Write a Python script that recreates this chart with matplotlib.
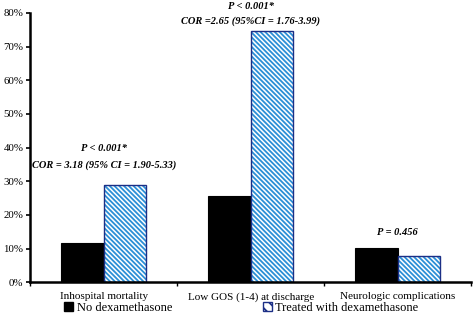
import matplotlib
matplotlib.use("Agg")
import matplotlib.pyplot as plt
import numpy as np
from matplotlib.patches import Patch

categories = ["Inhospital mortality", "Low GOS (1-4) at discharge", "Neurologic complications"]
no_dexa = [11.7, 25.7, 10.1]
treated_dexa = [29.0, 74.7, 7.9]
series_labels = ["No dexamethasone", "Treated with dexamethasone"]
ann_p = ["P < 0.001*", "P < 0.001*", "P = 0.456"]
ann_cor = ["COR = 3.18 (95% CI = 1.90-5.33)", "COR =2.65 (95%CI = 1.76-3.99)", ""]
yticks = [0, 10, 20, 30, 40, 50, 60, 70, 80]

plt.rcParams['font.family'] = ['Liberation Serif', 'DejaVu Serif']
plt.rcParams['hatch.linewidth'] = 1.3

fig = plt.figure(figsize=(4.74, 3.14), dpi=100)
ax = fig.add_axes([0.064, 0.101, 0.93, 0.858])

x = np.arange(len(categories))
w = 0.29
ax.bar(x - w/2, no_dexa, width=w, color='black', edgecolor='black', linewidth=0.8)
ax.bar(x + w/2, treated_dexa, width=w, color='white', edgecolor='#2b8fd6', hatch='\\' * 7, linewidth=0)
ax.bar(x + w/2, treated_dexa, width=w, fill=False, edgecolor='#1c2f86', linewidth=1.0)

ax.set_xlim(-0.5, 2.5)
ax.set_ylim(0, 80)
ax.set_yticks(yticks)
ax.set_yticklabels([f"{t}%" for t in yticks], fontsize=7.8)
ax.set_xticks([-0.5, 0.5, 1.5, 2.5])
ax.set_xticklabels([])
ax.set_xticks(x, minor=True)
ax.set_xticklabels(categories, minor=True, fontsize=8)
ax.tick_params(axis='x', which='minor', length=0, pad=7)
ax.tick_params(axis='x', which='major', length=3, width=1, direction='out')
ax.tick_params(axis='y', length=3, width=1.2, direction='out', pad=2)
for s in ['top', 'right']:
    ax.spines[s].set_visible(False)
ax.spines['left'].set_linewidth(1.8)
ax.spines['bottom'].set_linewidth(1.8)

# annotations
kw = dict(ha='center', va='center', fontsize=7.5, fontweight='bold', style='italic', clip_on=False)
ax.text(0, 39.8, ann_p[0], **kw)
ax.text(0, 34.8, ann_cor[0], **kw)
ax.text(1, 82.0, ann_p[1], **kw)
ax.text(1, 77.6, ann_cor[1], **kw)
ax.text(2, 14.7, ann_p[2], **kw)

h1 = Patch(facecolor='black', edgecolor='black')
h2 = Patch(facecolor='white', edgecolor='#1c2f86', hatch='\\\\\\')
fig.legend([h1, h2], series_labels, loc='lower left', bbox_to_anchor=(0.112, -0.035), ncol=2,
           frameon=False, fontsize=9, handlelength=0.7, handleheight=0.7, handletextpad=0.3,
           columnspacing=7.26)

fig.savefig("out.png", dpi=100)
